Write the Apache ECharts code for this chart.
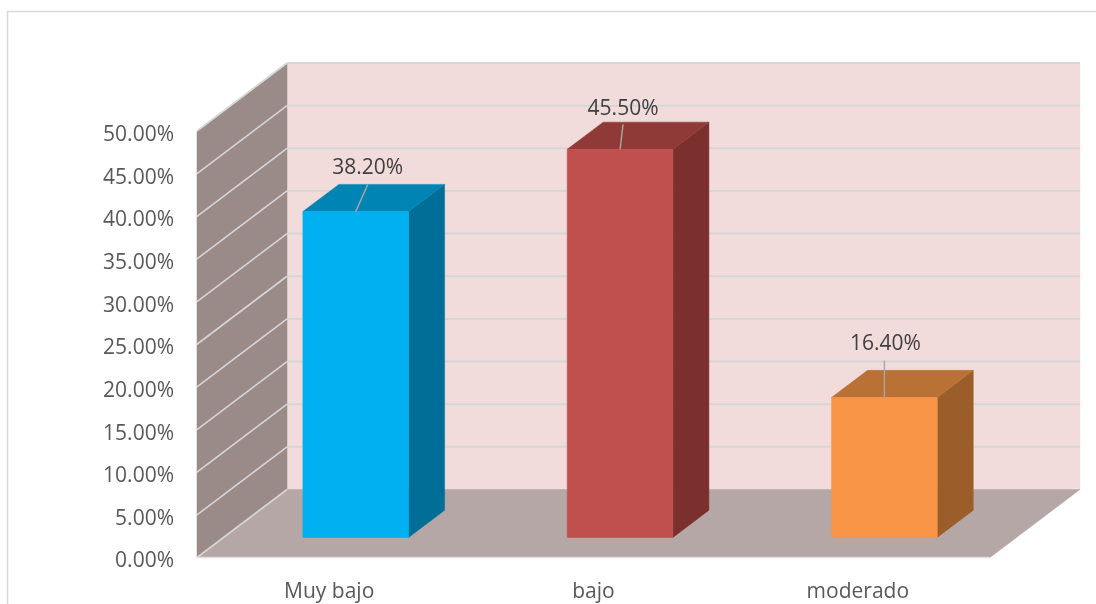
<!DOCTYPE html>
<html>
<head>
<meta charset="utf-8">
<style>html,body{margin:0;padding:0;background:#fff}#c{width:1096px;height:604px}</style>
<script src="https://cdn.jsdelivr.net/npm/echarts@6/dist/echarts.min.js"></script>
</head>
<body>
<div id="c"></div>
<script>
// Data
const categories = ['Muy bajo', 'bajo', 'moderado'];
const values = [38.2, 45.5, 16.4];
const tickValues = [0, 5, 10, 15, 20, 25, 30, 35, 40, 45, 50];

// Styles
const frontColors = ['#00B0F0', '#C0504D', '#F99546'];
const topColors = ['#0084B4', '#903A38', '#B97135'];
const sideColors = ['#006E96', '#7B302E', '#9B5E2B'];
const labelOffsets = [[12, -43.5], [3, -40.5], [1, -53.5]];
const leaderEnds = [[12, -27], [3, -25], [0, -37]];
const depthX = 90, depthY = 68;
const barNear = 0.295, barFar = 0.695, barShare = 0.4;
const gridColor = '#D6D6D6';
const font = '"Open Sans", sans-serif';

function poly(points, fill, stroke) {
  return { type: 'polygon', shape: { points }, style: { fill, stroke: stroke || fill, lineWidth: stroke ? 1 : 0.5 } };
}
function seg(x1, y1, x2, y2, color, w) {
  return { type: 'line', shape: { x1, y1, x2, y2 }, style: { stroke: color, lineWidth: w } };
}

function renderWalls(params, api) {
  const s = params.coordSys;
  const L = s.x, R = s.x + s.width;
  const B = api.coord([0, 0])[1], T = api.coord([0, 50])[1];
  const kids = [
    poly([[L + depthX, T - depthY], [R + depthX, T - depthY], [R + depthX, B - depthY], [L + depthX, B - depthY]], '#F2DCDB'),
    poly([[L, T], [L + depthX, T - depthY], [L + depthX, B - depthY], [L, B]], '#9A8B89'),
    poly([[L, B], [L + depthX, B - depthY], [R + depthX, B - depthY], [R, B]], '#B5A7A6')
  ];
  tickValues.forEach(function (v) {
    const y = api.coord([0, v])[1];
    kids.push(seg(L, y, L + depthX, y - depthY, gridColor, 1.6));
    if (v > 0) kids.push(seg(L + depthX, y - depthY, R + depthX, y - depthY, gridColor, 2));
  });
  kids.push(seg(L, B, R, B, '#E4DEDE', 1.5));
  return { type: 'group', children: kids };
}

function renderBar(params, api) {
  const i = params.dataIndex;
  const p = api.coord([i, api.value(1)]);
  const base = api.coord([i, 0]);
  const w = api.size([1, 0])[0] * barShare;
  const x0 = p[0] - w / 2 + barNear * depthX, x1 = x0 + w;
  const yTop = p[1] - barNear * depthY, yBot = base[1] - barNear * depthY;
  const dx = (barFar - barNear) * depthX, dy = (barFar - barNear) * depthY;
  const cx = (x0 + x1) / 2;
  return {
    type: 'group',
    children: [
      poly([[x1, yTop], [x1 + dx, yTop - dy], [x1 + dx, yBot - dy], [x1, yBot]], sideColors[i]),
      poly([[x0, yTop], [x0 + dx, yTop - dy], [x1 + dx, yTop - dy], [x1, yTop]], topColors[i]),
      poly([[x0, yTop], [x1, yTop], [x1, yBot], [x0, yBot]], frontColors[i]),
      seg(cx, yTop, cx + leaderEnds[i][0], yTop + leaderEnds[i][1], '#A6A6A6', 1.4),
      {
        type: 'text',
        style: {
          text: api.value(1).toFixed(2) + '%',
          x: cx + labelOffsets[i][0], y: yTop + labelOffsets[i][1],
          align: 'center', verticalAlign: 'middle',
          fill: '#404040', font: '21px ' + font
        }
      }
    ]
  };
}

const chart = echarts.init(document.getElementById('c'), null, { renderer: 'canvas' });
chart.setOption({
  animation: false,
  backgroundColor: '#FFFFFF',
  graphic: [{
    type: 'polyline',
    shape: { points: [[7.5, 604], [7.5, 11.5], [1096, 11.5]] },
    style: { stroke: '#D9D9D9', lineWidth: 1.5, fill: null },
    silent: true
  }],
  grid: { left: 197, top: 131, width: 793, height: 426.5 },
  xAxis: {
    type: 'category',
    data: categories,
    axisLine: { show: false }, axisTick: { show: false }, splitLine: { show: false },
    axisLabel: { color: '#595959', fontSize: 21, fontFamily: font, margin: 24 }
  },
  yAxis: {
    type: 'value', min: 0, max: 50, interval: 5,
    axisLine: { show: false }, axisTick: { show: false }, splitLine: { show: false },
    axisLabel: { color: '#595959', fontSize: 21, fontFamily: font, margin: 23, verticalAlign: 'top', padding: [-10, 0, 0, 0], lineHeight: 28,
      formatter: function (v) { return v.toFixed(2) + '%'; } }
  },
  series: [
    { type: 'custom', name: 'walls', silent: true, clip: false, z: 1, data: [[0, 0]],
      encode: { x: 0, y: 1 }, renderItem: renderWalls },
    { type: 'custom', name: 'bars', silent: true, clip: false, z: 2,
      data: values.map(function (v, i) { return [i, v]; }),
      encode: { x: 0, y: 1 }, renderItem: renderBar }
  ]
});
</script>
</body>
</html>
